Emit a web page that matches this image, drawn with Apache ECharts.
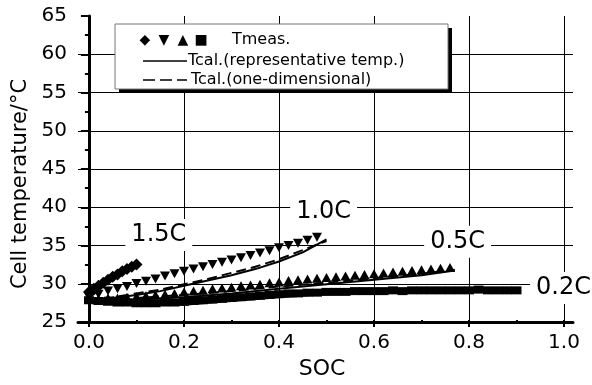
<!DOCTYPE html>
<html><head><meta charset="utf-8">
<script src="https://cdn.jsdelivr.net/npm/echarts@6/dist/echarts.min.js"></script>
<style>html,body{margin:0;padding:0;background:#fff}#c{width:592px;height:385px}</style>
</head><body><div id="c"></div>
<script>
// ---- data ----
const socGrid = [0,0.02,0.04,0.06,0.08,0.10,0.12,0.14,0.16,0.18,0.20,0.22,0.24,0.26,0.28,0.30,0.32,0.34,0.36,0.38,0.40,0.42,0.44,0.46,0.48,0.50,0.52,0.54,0.56,0.58,0.60,0.62,0.64,0.66,0.68,0.70,0.72,0.74,0.76,0.78,0.80,0.82,0.84,0.86,0.88,0.90];
const soc15 = [0,0.01,0.02,0.03,0.04,0.05,0.06,0.07,0.08,0.09,0.10];
const t15meas = [28.7,29.1,29.5,29.9,30.3,30.7,31.0,31.4,31.7,32.0,32.3];
const t10meas = [28.0,28.4,28.8,29.1,29.4,29.8,30.1,30.4,30.8,31.1,31.4,31.7,32.0,32.3,32.6,32.9,33.2,33.5,33.8,34.1,34.5,34.8,35.1,35.5,35.9];
const t05meas = [27.8,27.8,27.9,27.9,28.0,28.1,28.2,28.3,28.4,28.5,28.7,28.8,28.9,29.1,29.2,29.3,29.5,29.6,29.7,29.9,30.0,30.2,30.3,30.4,30.5,30.6,30.7,30.8,30.9,31.0,31.1,31.2,31.3,31.4,31.5,31.6,31.7,31.8,31.9];
const t02meas = [27.6,27.5,27.4,27.3,27.3,27.2,27.2,27.2,27.3,27.3,27.4,27.5,27.6,27.7,27.8,27.9,28.0,28.1,28.2,28.3,28.4,28.5,28.5,28.6,28.6,28.7,28.7,28.7,28.8,28.8,28.8,28.8,28.9,28.8,28.9,28.9,28.9,28.9,28.9,28.9,28.9,29.0,28.9,28.9,28.9,28.9];

const socCalc15 = [0,0.05,0.10];
const t15rep = [27.9,30.4,32.6];
const t15one = [28.0,30.5,32.5];
const socCalc10 = [0,0.05,0.10,0.15,0.20,0.25,0.30,0.35,0.40,0.45,0.50];
const t10rep = [27.7,27.9,28.3,28.8,29.5,30.2,30.9,31.7,32.7,33.9,35.6];
const t10one = [27.8,28.0,28.5,29.0,29.7,30.4,31.2,32.0,33.0,34.2,35.4];
const socCalc05 = [0,0.10,0.20,0.30,0.40,0.50,0.60,0.70,0.77];
const t05rep = [27.7,27.7,28.0,28.5,29.1,29.7,30.3,30.9,31.5];
const t05one = [27.8,27.9,28.3,28.8,29.4,29.9,30.5,31.1,31.6];
const socCalc02 = [0,0.10,0.20,0.30,0.40,0.50,0.60,0.70,0.80,0.90];
const t02rep = [27.5,27.0,27.0,27.5,28.0,28.4,28.7,28.8,28.9,28.9];
const t02one = [27.5,27.1,27.2,27.6,28.1,28.5,28.7,28.9,29.0,29.0];

const rateLabels = ['1.5C','1.0C','0.5C','0.2C'];
const rateLabelSOC = [0.147,0.494,0.776,0.999];
const rateLabelTemp = [36.2,39.3,35.3,29.2];

const legendTexts = ['Tmeas.','Tcal.(representative temp.)','Tcal.(one-dimensional)'];
const xTitle = 'SOC';
const yTitle = 'Cell temperature/°C';

// ---- chart ----
const FONT = 'DejaVu Sans';
const zip = (xs, ys) => ys.map((y, i) => [xs[i], y]);

const measSeries = (xs, ys, symbol, size, rot) => ({
  type: 'scatter', xAxisIndex: 0, yAxisIndex: 0,
  data: zip(xs, ys), symbol: symbol, symbolSize: size, symbolRotate: rot || 0,
  itemStyle: { color: '#000', opacity: 1 }, z: 3, silent: true
});
const calcSeries = (xs, ys, dashed) => ({
  type: 'line', xAxisIndex: 0, yAxisIndex: 0,
  data: zip(xs, ys), symbol: 'none', showSymbol: false,
  lineStyle: { color: '#000', width: 2, type: dashed ? [10, 5] : 'solid' }, z: 4, silent: true
});

const chart = echarts.init(document.getElementById('c'), null, { renderer: 'canvas' });
chart.setOption({
  animation: false,
  backgroundColor: '#fff',
  grid: [
    { left: 89, right: 28, top: 16, bottom: 63 },
    { left: 78, right: 19, top: 16, bottom: 63 }
  ],
  xAxis: [
    {
      gridIndex: 0, type: 'value', min: 0, max: 1, interval: 0.2,
      axisLine: { show: false },
      axisTick: { show: true, length: 7, lineStyle: { color: '#000', width: 2 } },
      minorTick: { show: true, splitNumber: 2, length: 4, lineStyle: { color: '#000', width: 2 } },
      axisLabel: { fontSize: 20, fontFamily: FONT, color: '#000', margin: 13, formatter: v => v.toFixed(1) },
      splitLine: { show: true, lineStyle: { color: '#000', width: 1 } },
      name: xTitle, nameLocation: 'middle', nameGap: 38,
      nameTextStyle: { fontSize: 22, fontFamily: FONT, color: '#000', padding: [0, 9, 0, 0] }
    },
    {
      gridIndex: 1, type: 'value', min: -0.023, max: 1.019,
      axisLine: { show: true, lineStyle: { color: '#000', width: 3 } },
      axisTick: { show: false }, axisLabel: { show: false }, splitLine: { show: false }
    }
  ],
  yAxis: [
    { gridIndex: 0, type: 'value', min: 25, max: 65, show: false },
    {
      gridIndex: 1, type: 'value', min: 25, max: 65, interval: 5,
      axisLine: { show: true, lineStyle: { color: '#000', width: 3 } },
      axisTick: { show: true, length: 8, lineStyle: { color: '#000', width: 2 } },
      minorTick: { show: true, splitNumber: 2, length: 4, lineStyle: { color: '#000', width: 2 } },
      axisLabel: { fontSize: 20, fontFamily: FONT, color: '#000', margin: 11 },
      splitLine: { show: true, showMinLine: false, showMaxLine: false, lineStyle: { color: '#000', width: 1 } },
      name: yTitle, nameLocation: 'middle', nameGap: 46,
      nameTextStyle: { fontSize: 21, fontFamily: FONT, color: '#000', padding: [0, 30, 0, 0] }
    }
  ],
  series: [
    calcSeries(socCalc15, t15rep, false),
    calcSeries(socCalc15, t15one, true),
    calcSeries(socCalc10, t10rep, false),
    calcSeries(socCalc10, t10one, true),
    calcSeries(socCalc05, t05rep, false),
    calcSeries(socCalc05, t05one, true),
    calcSeries(socCalc02, t02rep, false),
    calcSeries(socCalc02, t02one, true),
    measSeries(socGrid.slice(0, t02meas.length), t02meas, 'rect', [10, 8]),
    measSeries(socGrid.slice(0, t05meas.length), t05meas, 'triangle', [10, 9]),
    measSeries(socGrid.slice(0, t10meas.length), t10meas, 'triangle', [10, 9], 180),
    measSeries(soc15, t15meas, 'diamond', 12),
    {
      type: 'scatter', xAxisIndex: 0, yAxisIndex: 0, symbolSize: 0, z: 10, silent: true,
      itemStyle: { opacity: 1 },
      data: rateLabels.map((t, i) => ({ name: t, value: [rateLabelSOC[i], rateLabelTemp[i]] })),
      label: {
        show: true, position: 'inside', formatter: '{b}', fontSize: 24, fontFamily: FONT,
        color: '#000', opacity: 1, backgroundColor: '#fff', padding: [4, 6]
      }
    }
  ],
  graphic: [
    { type: 'rect', z: 100, silent: true, shape: { x: 119, y: 28, width: 333, height: 65 }, style: { fill: '#000' } },
    { type: 'rect', z: 101, silent: true, shape: { x: 115, y: 24, width: 333, height: 65 }, style: { fill: '#fff', stroke: '#777', lineWidth: 1 } },
    { type: 'text', z: 102, silent: true, style: { x: 145, y: 40, text: '◆', font: '14px "DejaVu Sans"', fill: '#000', align: 'center', verticalAlign: 'middle' } },
    { type: 'text', z: 102, silent: true, style: { x: 164, y: 40, text: '▼', font: '14px "DejaVu Sans"', fill: '#000', align: 'center', verticalAlign: 'middle' } },
    { type: 'text', z: 102, silent: true, style: { x: 183, y: 40, text: '▲', font: '14px "DejaVu Sans"', fill: '#000', align: 'center', verticalAlign: 'middle' } },
    { type: 'text', z: 102, silent: true, style: { x: 201, y: 40, text: '■', font: '14px "DejaVu Sans"', fill: '#000', align: 'center', verticalAlign: 'middle' } },
    { type: 'text', z: 102, silent: true, style: { x: 232, y: 40, text: legendTexts[0], font: '16px "DejaVu Sans"', fill: '#000', align: 'left', verticalAlign: 'middle' } },
    { type: 'line', z: 102, silent: true, shape: { x1: 143, y1: 61, x2: 187, y2: 61 }, style: { stroke: '#000', lineWidth: 1.5 } },
    { type: 'text', z: 102, silent: true, style: { x: 188, y: 60.5, text: legendTexts[1], font: '16px "DejaVu Sans"', fill: '#000', align: 'left', verticalAlign: 'middle' } },
    { type: 'line', z: 102, silent: true, shape: { x1: 143, y1: 80, x2: 187, y2: 80 }, style: { stroke: '#000', lineWidth: 1.5, lineDash: [12, 5] } },
    { type: 'text', z: 102, silent: true, style: { x: 191, y: 79.5, text: legendTexts[2], font: '16px "DejaVu Sans"', fill: '#000', align: 'left', verticalAlign: 'middle' } }
  ]
});
</script></body></html>
